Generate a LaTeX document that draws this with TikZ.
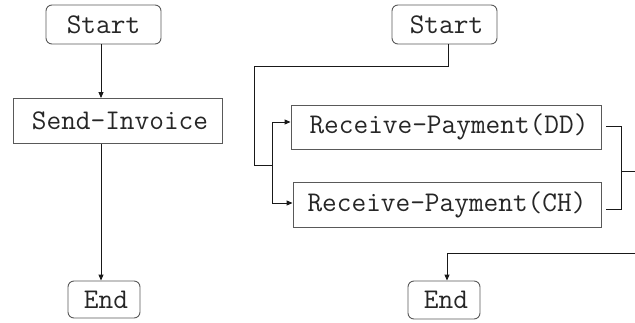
\documentclass[tikz,border=0pt]{standalone}
\usetikzlibrary{arrows.meta}
\begin{document}
\begin{tikzpicture}[x=1pt,y=-1pt,
  every node/.style={font=\fontsize{28.5}{30}\selectfont\ttfamily, text=black!85},
  box/.style={draw=black!65, line width=0.9pt, inner sep=0pt},
  term/.style={box, rounded corners=6pt},
  flow/.style={draw=black!90, line width=0.9pt},
  arr/.style={flow, -{Triangle[length=6pt,width=5pt]}}]
  \useasboundingbox (0,0) rectangle (635,322);

  % left process: a single task
  \node[term, minimum width=115pt, minimum height=39pt] (s1) at (103.5,24.5) {Start};
  \node[box, minimum width=209pt, minimum height=45pt] (inv) at (117.5,121) {\hspace{5pt}Send-Invoice};
  \node[term, minimum width=72pt, minimum height=37pt] (e1) at (104,299.5) {\hspace{4pt}End};
  \coordinate (lx) at (101,0);
  \draw[arr] (s1.south -| lx) -- (inv.north -| lx);
  \draw[arr] (inv.south -| lx) -- (e1.north -| lx);

  % right process: two alternative payment tasks
  \node[term, minimum width=105pt, minimum height=39pt] (s2) at (444.5,24.5) {\hspace{4pt}Start};
  \node[box, minimum width=310pt, minimum height=44pt] (dd) at (446,127) {\hspace{6pt}Receive-Payment(DD)};
  \node[box, minimum width=308pt, minimum height=45pt] (ch) at (447,204.5) {Receive-Payment(CH)};
  \node[term, minimum width=72pt, minimum height=38pt] (e2) at (444,300) {\hspace{4pt}End};

  % split
  \coordinate (sx) at (448,0);
  \coordinate (split) at (272,165);
  \draw[flow] (s2.south -| sx) |- (254,66) |- (split);
  \draw[arr] (split) |- (dd.west |- 0,122);
  \draw[arr] (split) |- (ch.west |- 0,203);

  % join
  \coordinate (dout) at (606,126);
  \coordinate (cout) at (606,209);
  \coordinate (join) at (621,171);
  \coordinate (jout) at (635,171);
  \coordinate (ein) at (635,253);
  \draw[flow] (dout) -| (join |- cout) -- (cout);
  \draw[flow] (join) -- (jout);
  \coordinate (ex) at (447,0);
  \draw[arr] (ein) -| (e2.north -| ex);
\end{tikzpicture}
\end{document}
